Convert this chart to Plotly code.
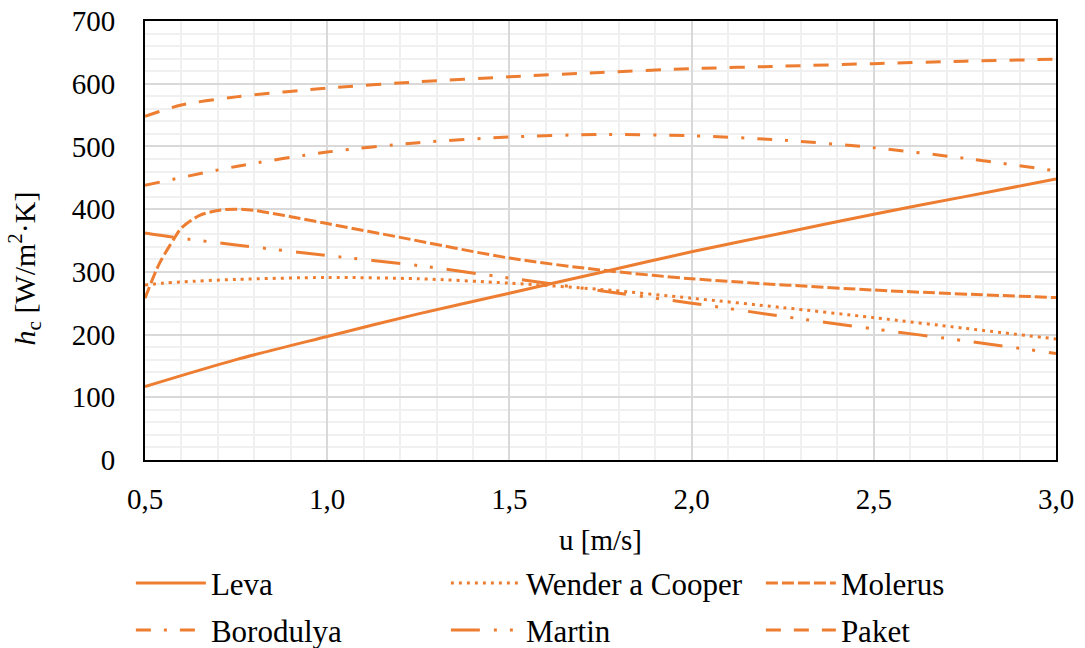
import plotly.graph_objects as go

ORANGE = "#ED7D31"
FONT = "Liberation Serif, Times New Roman, serif"

# ---- data ----
leva_u = [0.5, 0.75, 1.0, 1.25, 1.5, 1.75, 2.0, 2.25, 2.5, 2.75, 3.0]
leva_h = [117, 160, 197, 233, 266, 299, 332, 362, 392, 420, 448]

wender_u = [0.5, 0.55, 0.6, 0.75, 1.0, 1.25, 1.5, 1.75, 2.0, 2.25, 2.5, 2.75, 3.0]
wender_h = [279, 282, 284, 288, 291, 289, 282, 272, 258, 243, 227, 210, 193]

molerus_u = [0.5, 0.54, 0.58, 0.6, 0.65, 0.7, 0.75, 0.8, 0.85, 0.9, 1.0, 1.2, 1.5, 1.75, 2.0, 2.5, 3.0]
molerus_h = [258, 314, 353, 370, 390, 398, 400, 398, 393, 388, 377, 355, 322, 303, 289, 271, 259]

borodulya_u = [0.5, 0.75, 1.0, 1.25, 1.5, 1.75, 2.0, 2.25, 2.5, 2.75, 3.0]
borodulya_h = [438, 468, 491, 506, 515, 519, 517, 510, 498, 481, 461]

martin_u = [0.5, 0.58, 0.75, 1.0, 1.25, 1.5, 1.75, 2.0, 2.25, 2.5, 2.75, 3.0]
martin_h = [362, 355, 343, 326, 310, 290, 270, 250, 229, 209, 190, 170]

paket_u = [0.5, 0.6, 0.75, 1.0, 1.25, 1.5, 1.75, 2.0, 2.25, 2.5, 2.75, 3.0]
paket_h = [548, 566, 579, 593, 603, 611, 618, 624, 628, 632, 636, 639]

series = [
    ("Leva", leva_u, leva_h, "solid", "legend"),
    ("Wender a Cooper", wender_u, wender_h, "3px,5px", "legend"),
    ("Molerus", molerus_u, molerus_h, "12px,4px", "legend"),
    ("Borodulya", borodulya_u, borodulya_h, "15px,13px,3px,13px", "legend2"),
    ("Martin", martin_u, martin_h, "29px,14px,3px,13px,3px,14px", "legend2"),
    ("Paket", paket_u, paket_h, "15px,13px", "legend2"),
]

x_ticks = [0.5, 1.0, 1.5, 2.0, 2.5, 3.0]
y_ticks = [0, 100, 200, 300, 400, 500, 600, 700]
x_title = "u [m/s]"
y_title = "<i>h</i><sub>c</sub> [W/m<sup>2</sup>·K]"

fig = go.Figure()
for name, u, h, dash, lg in series:
    fig.add_trace(go.Scatter(
        x=u, y=h, name=name, mode="lines",
        line=dict(color=ORANGE, width=3, dash=dash, shape="spline", smoothing=0.8),
        legend=lg,
    ))

TICKFONT = dict(family=FONT, size=29, color="black")
leg_common = dict(orientation="h", xanchor="left", yanchor="middle",
                  font=dict(family=FONT, size=31, color="black"),
                  entrywidth=230, itemwidth=70, bgcolor="rgba(0,0,0,0)",
                  traceorder="normal")

fig.update_layout(
    width=1085, height=648,
    margin=dict(l=145, r=29, t=21, b=188, autoexpand=False),
    paper_bgcolor="white", plot_bgcolor="white",
    separators=", ",
    font=dict(family=FONT, size=29, color="black"),
    showlegend=True,
    legend=dict(x=-0.0155, y=-0.281, **leg_common),
    legend2=dict(x=-0.0155, y=-0.388, **leg_common),
    xaxis=dict(
        range=[0.5, 3.0], tickvals=x_ticks, tickformat=".1f", tickfont=TICKFONT,
        showline=True, linecolor="black", linewidth=2, mirror=True,
        showgrid=True, gridcolor="#d9d9d9", gridwidth=1.5,
        minor=dict(dtick=0.1, showgrid=True, gridcolor="#f0f0f0", gridwidth=1.5),
        ticks="", ticklabelstandoff=12, automargin=False,
        title=dict(text=x_title, standoff=16, font=dict(family=FONT, size=29, color="black")),
        zeroline=False,
    ),
    yaxis=dict(
        range=[0, 700], tickvals=y_ticks, tickfont=TICKFONT,
        showline=True, linecolor="black", linewidth=2, mirror=True,
        showgrid=True, gridcolor="#d9d9d9", gridwidth=1.5,
        minor=dict(dtick=20, showgrid=True, gridcolor="#f0f0f0", gridwidth=1.5),
        ticks="", ticklabelstandoff=22, automargin=False,
        zeroline=False,
    ),
    annotations=[dict(
        text=y_title, textangle=-90, xref="paper", yref="paper",
        x=-0.1325, y=0.437, xanchor="center", yanchor="middle", showarrow=False,
        font=dict(family=FONT, size=30, color="black"),
    )],
)

fig.write_html("out.html")
